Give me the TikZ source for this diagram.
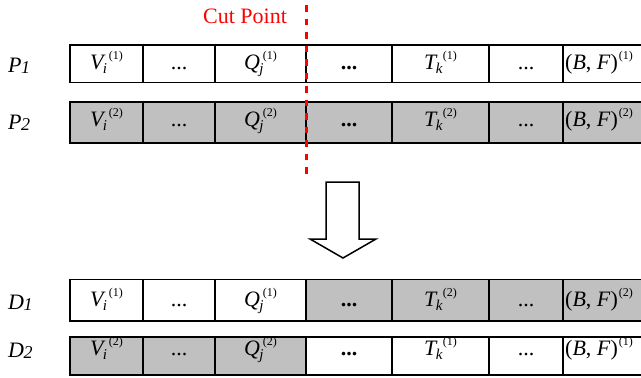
\documentclass[tikz,border=0pt]{standalone}
\usepackage{fontspec}
\setmainfont{Liberation Serif}
\definecolor{cellgray}{HTML}{C0C0C0}
\definecolor{cutred}{HTML}{FF0000}
% cell: name, x1, x2, top, bottom, baseline, fill, text
\newcommand\mycell[8]{%
  \node[cellbox, fill=#7, minimum width=#3pt-#2pt, minimum height=#5pt-#4pt] (#1) at ({(#2+#3)/2}, {(#4+#5)/2}) {};
  \node[celltext, anchor=base] (#1t) at ({(#2+#3)/2}, #6) {#8};}
\newcommand\lastcell[8]{%
  \node[cellbox, fill=#7, minimum width=#3pt-#2pt, minimum height=#5pt-#4pt] (#1) at ({(#2+#3)/2}, {(#4+#5)/2}) {};
  \node[celltext, anchor=base west] (#1t) at (#2+2, #6) {#8};}
\newcommand\supr[1]{\raisebox{10pt}{\fontsize{12}{12}\selectfont(#1)}}
% letter, subscript, sup index, sub kern, sup kern
\newcommand\sym[5]{\textit{#1}\rlap{\kern#4pt\raisebox{-4pt}{\fontsize{15}{15}\selectfont\textit{#2}}}\kern#5pt\supr{#3}}
\newcommand\Vs[1]{\sym{V}{i}{#1}{-3}{3}}
\newcommand\Qs[1]{\sym{Q}{j}{#1}{-0.5}{3}}
\newcommand\Ts[1]{\sym{T}{k}{#1}{-2}{5}}
\newcommand\BF[1]{(\textit{B}, \textit{F})\kern1pt\supr{#1}}
\newcommand\lab[2]{\textit{#1}\kern-0.5pt\raisebox{-1.5pt}{\fontsize{18}{18}\selectfont\textit{#2}}}
\tikzset{
  cellbox/.style={draw=black, line width=1.5pt, rectangle, inner sep=0pt, outer sep=0pt},
  celltext/.style={font=\fontsize{22}{24}\selectfont, inner sep=0pt},
  rowlabel/.style={font=\fontsize{22}{24}\selectfont, inner sep=0pt, anchor=base west},
  cutline/.style={draw=cutred, line width=3pt, dash pattern=on 6.5pt off 7pt},
  bigarrow/.style={draw=black, line width=1.5pt, fill=white, line join=miter}
}
\begin{document}
\begin{tikzpicture}[x=1pt, y=-1pt]
\useasboundingbox (0,0) rectangle (641,378);
\clip (0,0) rectangle (641,378);
% P1
\mycell{p1a}{70}{143}{45}{82.5}{69}{white}{\Vs{1}}
\mycell{p1b}{143}{215}{45}{82.5}{69}{white}{...}
\mycell{p1c}{215}{306}{45}{82.5}{69}{white}{\Qs{1}}
\mycell{p1d}{306}{392}{45}{82.5}{69}{white}{\textbf{...}}
\mycell{p1e}{392}{489}{45}{82.5}{69}{white}{\Ts{1}}
\mycell{p1f}{489}{563}{45}{82.5}{69}{white}{...}
\lastcell{p1g}{563}{650}{45}{82.5}{69}{white}{\BF{1}}
% P2
\mycell{p2a}{70}{143}{102}{143}{126}{cellgray}{\Vs{2}}
\mycell{p2b}{143}{215}{102}{143}{126}{cellgray}{...}
\mycell{p2c}{215}{306}{102}{143}{126}{cellgray}{\Qs{2}}
\mycell{p2d}{306}{392}{102}{143}{126}{cellgray}{\textbf{...}}
\mycell{p2e}{392}{489}{102}{143}{126}{cellgray}{\Ts{2}}
\mycell{p2f}{489}{563}{102}{143}{126}{cellgray}{...}
\lastcell{p2g}{563}{650}{102}{143}{126}{cellgray}{\BF{2}}
% D1
\mycell{d1a}{70}{143}{279.5}{321}{306}{white}{\Vs{1}}
\mycell{d1b}{143}{215}{279.5}{321}{306}{white}{...}
\mycell{d1c}{215}{306}{279.5}{321}{306}{white}{\Qs{1}}
\mycell{d1d}{306}{392}{279.5}{321}{306}{cellgray}{\textbf{...}}
\mycell{d1e}{392}{489}{279.5}{321}{306}{cellgray}{\Ts{2}}
\mycell{d1f}{489}{563}{279.5}{321}{306}{cellgray}{...}
\lastcell{d1g}{563}{650}{279.5}{321}{306}{cellgray}{\BF{2}}
% D2
\mycell{d2a}{70}{143}{337}{375}{355}{cellgray}{\Vs{2}}
\mycell{d2b}{143}{215}{337}{375}{355}{cellgray}{...}
\mycell{d2c}{215}{306}{337}{375}{355}{cellgray}{\Qs{2}}
\mycell{d2d}{306}{392}{337}{375}{355}{white}{\textbf{...}}
\mycell{d2e}{392}{489}{337}{375}{355}{white}{\Ts{1}}
\mycell{d2f}{489}{563}{337}{375}{355}{white}{...}
\lastcell{d2g}{563}{650}{337}{375}{355}{white}{\BF{1}}
% row labels
\node[rowlabel] (lp1) at (8,72) {\lab{P}{1}};
\node[rowlabel] (lp2) at (8,129) {\lab{P}{2}};
\node[rowlabel] (ld1) at (8,309) {\lab{D}{1}};
\node[rowlabel] (ld2) at (8,357) {\lab{D}{2}};
% cut point
\node[font=\fontsize{22}{24}\selectfont, text=cutred, inner sep=0pt, anchor=base] (cut) at (245,23) {Cut Point};
\coordinate (cuttop) at (306,5);
\coordinate (cutbot) at (306,179);
\draw[cutline] (cuttop) -- (cutbot);
% big arrow
\draw[bigarrow] (326,182) -- (359,182) -- (359,239) -- (376,239) -- (343,258) -- (310,239) -- (326,239) -- cycle;
\end{tikzpicture}
\end{document}
